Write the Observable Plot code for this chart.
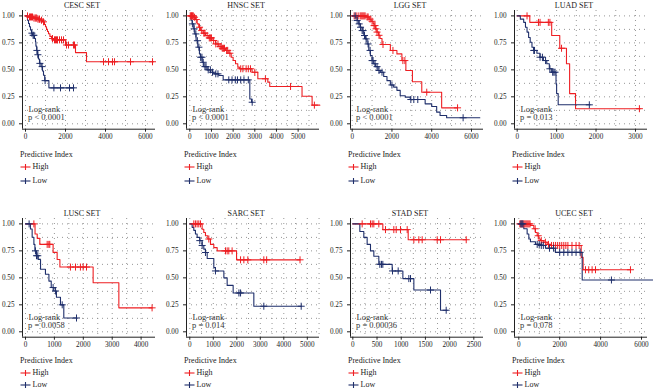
<!DOCTYPE html>
<html><head><meta charset="utf-8">
<script src="https://cdn.jsdelivr.net/npm/d3@7"></script>
<script src="https://cdn.jsdelivr.net/npm/@observablehq/plot@0.6"></script>
<style>
body{margin:0;background:#fff;}
#root{position:relative;width:653px;height:390px;overflow:hidden;font-family:"Liberation Serif","DejaVu Serif",serif;color:#222;}
.lbl{position:absolute;white-space:nowrap;font-size:8px;line-height:1;color:#222;}
.panel{position:absolute;}
.panel svg{overflow:visible;}
</style></head><body><div id="root"></div>
<script>
const panelTitles = ["CESC SET","HNSC SET","LGG SET","LUAD SET","LUSC SET","SARC SET","STAD SET","UCEC SET"];
const pValues = ["p < 0.0001","p < 0.0001","p < 0.0001","p = 0.013","p = 0.0058","p = 0.014","p = 0.00036","p = 0.078"];
const testLabel = "Log-rank";
const legendTitle = "Predictive Index";
const groupNames = ["High","Low"];
const xTickValues = [[0,2000,4000,6000],[0,1000,2000,3000,4000,5000],[0,2000,4000,6000],[0,1000,2000,3000],
                     [0,1000,2000,3000,4000],[0,1000,2000,3000,4000,5000],[0,500,1000,1500,2000,2500],[0,2000,4000,6000]];
const yTickValues = [0,0.25,0.5,0.75,1];

// Kaplan-Meier steps: [time, survival from that time]; last point = end of follow-up
const cescHigh = [[0,1],[150,0.99],[400,0.98],[600,0.97],[750,0.96],[850,0.945],[950,0.92],[1000,0.9],[1050,0.875],[1100,0.855],[1150,0.835],[1220,0.81],[1300,0.79],[1400,0.778],[2000,0.73],[2500,0.66],[3050,0.575],[6400,0.575]];
const cescHighCens = [100,200,250,300,350,420,480,520,560,620,680,700,800,900,1350,1450,1500,1550,1600,1700,1800,1900,2050,2150,2400,2450,3900,4150,4350,4450,5250,6350];
const cescLow = [[0,1],[100,0.96],[150,0.93],[200,0.9],[250,0.87],[300,0.84],[350,0.82],[450,0.79],[500,0.76],[520,0.72],[560,0.68],[600,0.64],[650,0.6],[700,0.56],[780,0.53],[850,0.49],[900,0.45],[960,0.4],[1170,0.333],[2420,0.333]];
const cescLowCens = [320,380,420,570,620,720,830,980,1420,1750,2200,2400];

const hnscHigh = [[0,1],[185,0.988],[260,0.966],[340,0.926],[415,0.895],[490,0.864],[615,0.84],[720,0.818],[875,0.796],[1030,0.772],[1185,0.74],[1340,0.716],[1490,0.7],[1645,0.68],[1800,0.654],[1910,0.617],[2000,0.586],[2110,0.556],[2215,0.525],[2290,0.51],[2875,0.478],[3140,0.417],[3600,0.386],[3690,0.346],[5180,0.256],[5645,0.173],[6000,0.173]];
const hnscHighCens = [20,50,80,100,130,160,220,300,450,550,650,700,800,900,950,1000,1100,1200,1300,1400,1450,1500,1550,1600,1700,1750,1850,2350,2450,2600,2700,2800,3000,3490,4650,5750];
const hnscLow = [[0,1],[60,0.96],[108,0.926],[185,0.88],[230,0.833],[290,0.77],[370,0.71],[445,0.648],[490,0.617],[570,0.57],[645,0.53],[800,0.5],[955,0.478],[1110,0.463],[1340,0.448],[1540,0.407],[2770,0.23],[2850,0.2],[2900,0.2]];
const hnscLowCens = [120,200,280,350,420,500,560,620,700,750,850,950,1050,1200,1300,1800,1950,2100,2200,2350,2500,2700,2880];

const lggHigh = [[0,1],[700,0.99],[850,0.97],[950,0.95],[1050,0.93],[1100,0.91],[1170,0.88],[1250,0.85],[1330,0.82],[1400,0.79],[1500,0.735],[1920,0.68],[2250,0.648],[2500,0.586],[2700,0.494],[3030,0.39],[3500,0.293],[4500,0.148],[5300,0.148]];
const lggHighCens = [100,200,300,400,450,500,550,600,650,750,800,900,1000,1100,1150,1200,1250,1350,1550,2050,2550,2650,3750,5300];
const lggLow = [[0,1],[170,0.988],[250,0.957],[330,0.926],[415,0.895],[500,0.864],[585,0.818],[665,0.787],[750,0.74],[835,0.68],[915,0.633],[1000,0.586],[1085,0.556],[1165,0.53],[1300,0.494],[1415,0.478],[1585,0.438],[1750,0.4],[1920,0.36],[2085,0.34],[2250,0.31],[2415,0.26],[2670,0.247],[2920,0.225],[3670,0.185],[4000,0.16],[4250,0.108],[4420,0.077],[4750,0.056],[6420,0.056]];
const lggLowCens = [150,250,350,420,500,550,620,700,800,900,1000,1050,1150,1250,1350,1500,2000,2950,3100,3300,5580];

const luadHigh = [[0,1],[320,0.94],[875,0.818],[1080,0.7],[1250,0.556],[1330,0.28],[1480,0.14],[3120,0.14]];
const luadHighCens = [250,540,580,790,830,1125,3100];
const luadLow = [[0,1],[80,0.97],[165,0.94],[210,0.895],[250,0.85],[290,0.8],[330,0.756],[375,0.71],[415,0.68],[500,0.654],[580,0.617],[665,0.586],[750,0.556],[815,0.51],[875,0.478],[985,0.37],[1000,0.28],[1040,0.176],[1850,0.176]];
const luadLowCens = [420,440,580,640,720,830,900,930,960,1830];

const luscHigh = [[0,1],[330,0.906],[405,0.866],[495,0.81],[955,0.736],[1095,0.67],[1190,0.6],[2340,0.455],[3230,0.222],[4380,0.222]];
const luscHighCens = [290,750,807,840,1555,1730,1900,1995,2110,4380];
const luscLow = [[0,1],[170,0.953],[230,0.876],[290,0.81],[325,0.75],[380,0.705],[440,0.67],[520,0.58],[690,0.533],[810,0.47],[890,0.41],[980,0.378],[1070,0.32],[1210,0.25],[1325,0.128],[1765,0.128]];
const luscLowCens = [125,345,380,425,955,1040,1270,1765];

const sarcHigh = [[0,1],[525,0.95],[596,0.92],[667,0.89],[767,0.86],[880,0.81],[1022,0.78],[1165,0.75],[1990,0.667],[4690,0.667]];
const sarcHighCens = [170,240,312,383,454,810,1520,1590,1660,1800,2160,2300,2470,3150,3270,4690];
const sarcLow = [[0,1],[100,0.968],[170,0.94],[240,0.906],[312,0.875],[426,0.845],[525,0.8],[596,0.766],[667,0.735],[740,0.68],[1022,0.595],[1093,0.564],[1450,0.5],[1590,0.43],[1845,0.36],[2725,0.237],[4740,0.237]];
const sarcLowCens = [426,525,667,1093,2090,2160,3150,4740];

const stadHigh = [[0,1],[620,0.947],[1144,0.853],[2343,0.853]];
const stadHighCens = [193,365,400,434,537,675,847,896,985,1123,1261,1364,1433,1743,1812,2343];
const stadLow = [[0,1],[145,0.93],[227,0.875],[296,0.81],[365,0.75],[434,0.7],[537,0.625],[813,0.564],[1034,0.493],[1261,0.387],[1812,0.2],[1950,0.2]];
const stadLowCens = [558,593,620,820,937,1157,1192,1605,1929];

const ucecHigh = [[0,1],[570,0.985],[735,0.955],[815,0.92],[900,0.89],[980,0.86],[1060,0.845],[1220,0.83],[1385,0.81],[1550,0.8],[3050,0.69],[3145,0.575],[5460,0.575]];
const ucecHighCens = [50,100,150,200,250,300,350,400,450,500,550,800,950,1100,1300,1450,1600,1700,1800,1900,2000,2100,2200,2300,2400,2600,2800,2950,3260,3420,3585,3750,5460];
const ucecLow = [[0,1],[245,0.955],[326,0.955],[408,0.906],[490,0.86],[570,0.835],[815,0.81],[1060,0.8],[1305,0.775],[1790,0.736],[3100,0.48],[6900,0.48]];
const ucecLowCens = [100,150,200,900,1000,1100,1200,1500,1700,2000,2200,2400,2600,2800,3000,4530];

// ---- layout (not data) ----
const series = [
  [cescHigh,cescHighCens,cescLow,cescLowCens],[hnscHigh,hnscHighCens,hnscLow,hnscLowCens],
  [lggHigh,lggHighCens,lggLow,lggLowCens],[luadHigh,luadHighCens,luadLow,luadLowCens],
  [luscHigh,luscHighCens,luscLow,luscLowCens],[sarcHigh,sarcHighCens,sarcLow,sarcLowCens],
  [stadHigh,stadHighCens,stadLow,stadLowCens],[ucecHigh,ucecHighCens,ucecLow,ucecLowCens]];
const xDomains = [[-150,6500],[-152,5986],[-85,6605],[-68,3305],[-104,4498],[-140,5519],[-48,2700],[-210,6293]];
const gridSteps = [1000,500,1000,500,500,500,250,1000];
const colors = {High:"#ee1f23", Low:"#1f2f6b"};
const blockLeft = [0,164,328,492];
const rowTop = [0,208];
const legendY = [[154.5,167,180.5],[361,373,384.5]];
const fontFam = '"Liberation Serif","DejaVu Serif",serif';

function survAt(steps, t){ let s = steps[0][1]; for (const [tt,ss] of steps){ if (tt <= t) s = ss; } return s; }

const root = document.getElementById("root");
function label(text, left, top, opts={}){
  const d = document.createElement("div");
  d.className = "lbl"; d.textContent = text;
  d.style.left = left+"px"; d.style.top = top+"px";
  d.style.transform = opts.center ? "translate(-50%,-50%)" : "translate(0,-50%)";
  root.appendChild(d); return d;
}
function legendKey(color, left, top){
  const ns="http://www.w3.org/2000/svg";
  const s=document.createElementNS(ns,"svg");
  s.setAttribute("width",12); s.setAttribute("height",8);
  s.style.position="absolute"; s.style.left=left+"px"; s.style.top=(top-4)+"px";
  s.innerHTML=`<line x1="0.5" x2="10.5" y1="4" y2="4" stroke="${color}" stroke-width="1.1"/><line x1="5.5" x2="5.5" y1="1" y2="7" stroke="${color}" stroke-width="1.1"/>`;
  root.appendChild(s);
}

for (let i = 0; i < 8; i++){
  const col = i % 4, row = Math.floor(i/4);
  const [hi, hiC, lo, loC] = series[i];
  const dom = xDomains[i];
  const width = col === 3 ? 161 : 164;
  const gridX = d3.range(0, dom[1], gridSteps[i]);
  const gridY = d3.range(0, 1.0001, 0.125);
  const grid = {stroke:"#8a8a8a", strokeDasharray:"1,4", strokeWidth:0.9};
  const svg = Plot.plot({
    width, height:150, marginLeft:22, marginRight: width-22-133, marginTop:10, marginBottom:21.3,
    style:{fontFamily:fontFam, fontSize:"7.2px", color:"#222", background:"transparent", overflow:"visible"},
    x:{domain:dom, ticks:xTickValues[i], tickFormat:d=>String(d), tickSize:3, tickPadding:2, label:null},
    y:{domain:[-0.05,1.05], ticks:yTickValues, tickFormat:d=>d.toFixed(2), tickSize:3, tickPadding:5, label:null},
    marks:[
      Plot.ruleX(gridX, grid),
      Plot.ruleY(gridY, grid),
      Plot.ruleX([dom[0]], {stroke:"#222", strokeWidth:1}),
      Plot.ruleY([-0.05], {stroke:"#222", strokeWidth:1}),
      Plot.line(hi, {x:d=>d[0], y:d=>d[1], curve:"step-after", stroke:colors.High, strokeWidth:1.1}),
      Plot.line(lo, {x:d=>d[0], y:d=>d[1], curve:"step-after", stroke:colors.Low, strokeWidth:1.1}),
      Plot.dot(hiC, {x:d=>d, y:d=>survAt(hi,d), symbol:"plus", r:2.4, stroke:colors.High, fill:"none", strokeWidth:1}),
      Plot.dot(loC, {x:d=>d, y:d=>survAt(lo,d), symbol:"plus", r:2.4, stroke:colors.Low, fill:"none", strokeWidth:1}),
      Plot.text([testLabel], {text:d=>d, frameAnchor:"bottom-left", textAnchor:"start", lineAnchor:"middle", dx:6, dy:-20, fontSize:8.5, fill:"#333"}),
      Plot.text([pValues[i]], {text:d=>d, frameAnchor:"bottom-left", textAnchor:"start", lineAnchor:"middle", dx:5.5, dy:-11.5, fontSize:8.5, fill:"#333"})
    ]
  });
  const wrap = document.createElement("div");
  wrap.className="panel"; wrap.style.left=blockLeft[col]+"px"; wrap.style.top=rowTop[row]+"px";
  wrap.appendChild(svg); root.appendChild(wrap);

  const bx = blockLeft[col], ty = rowTop[row], ly = legendY[row];
  label(panelTitles[i], bx+82, ty+6, {center:true});
  label(legendTitle, bx+20, ly[0]);
  legendKey(colors.High, bx+20, ly[1]);
  label(groupNames[0], bx+32.5, ly[1]);
  legendKey(colors.Low, bx+20, ly[2]);
  label(groupNames[1], bx+32.5, ly[2]);
}
</script></body></html>
